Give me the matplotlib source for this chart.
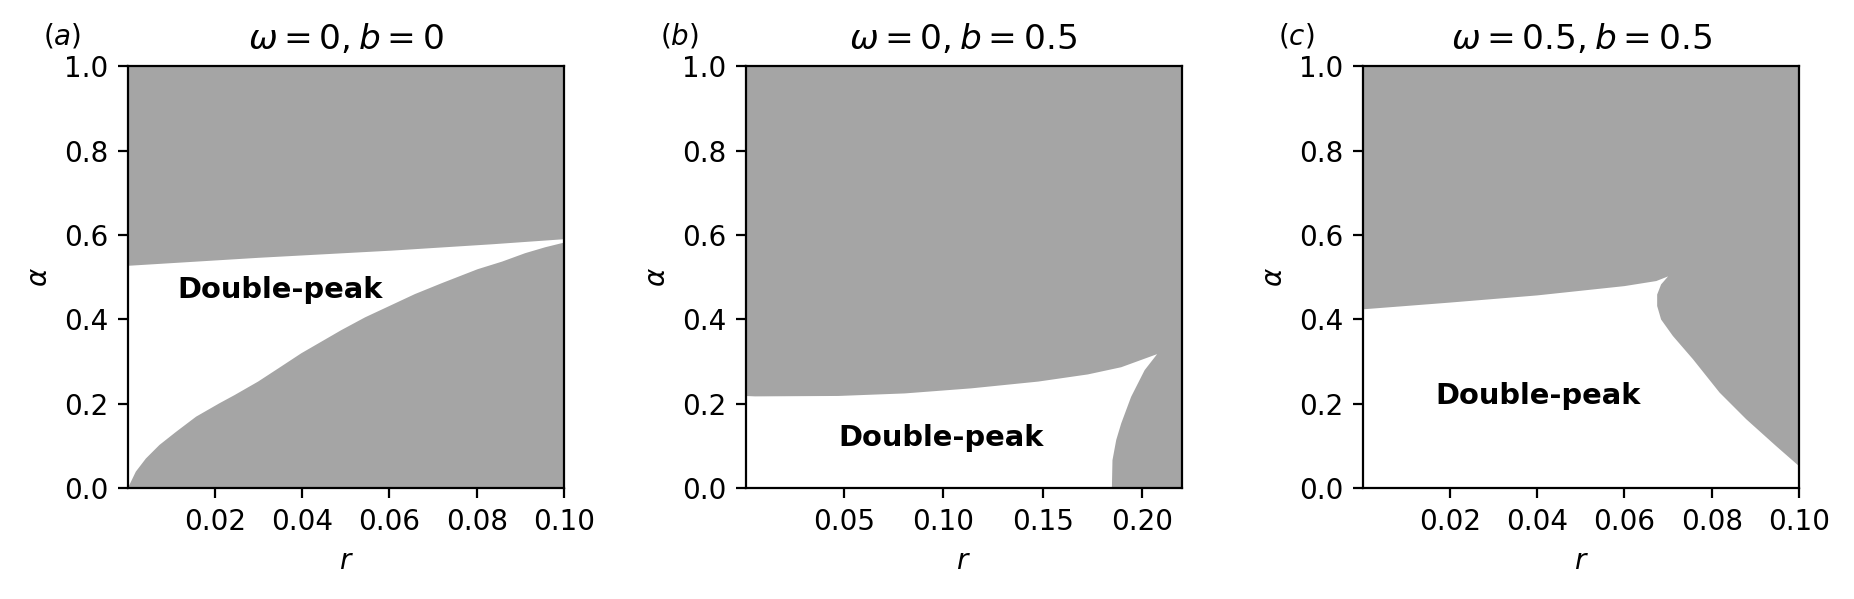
import matplotlib
matplotlib.use("Agg")
import matplotlib.pyplot as plt
import numpy as np

# panel (a): omega=0, b=0
a_r_up = [0.0, 0.03, 0.0605, 0.0835, 0.1]
a_al_up = [0.527, 0.546, 0.563, 0.578, 0.590]
a_r_lo = [0.0, 0.0004, 0.0019, 0.0042, 0.0073, 0.0111, 0.0157, 0.0211, 0.0245,
          0.0299, 0.0345, 0.0398, 0.049, 0.0544, 0.060, 0.0658, 0.072, 0.0802,
          0.0858, 0.0911, 0.0957, 0.1]
a_al_lo = [0.0, 0.008, 0.040, 0.071, 0.103, 0.134, 0.170, 0.202, 0.221,
           0.253, 0.284, 0.320, 0.375, 0.405, 0.432, 0.460, 0.486, 0.519,
           0.537, 0.557, 0.571, 0.582]

# panel (b): omega=0, b=0.5
b_r_up = [0.0, 0.005, 0.047, 0.0805, 0.114, 0.1477, 0.1728, 0.1896, 0.2077]
b_al_up = [0.219, 0.218, 0.219, 0.225, 0.237, 0.253, 0.270, 0.287, 0.318]
b_r_side = [0.2077, 0.2014, 0.1946, 0.1896, 0.1871, 0.1852, 0.1849]
b_al_side = [0.318, 0.280, 0.217, 0.154, 0.115, 0.067, 0.0]

# panel (c): omega=0.5, b=0.5
c_r_up = [0.0, 0.02, 0.04, 0.06, 0.0673, 0.070]
c_al_up = [0.424, 0.440, 0.457, 0.479, 0.491, 0.502]
c_r_side = [0.070, 0.0684, 0.0675, 0.0675, 0.0684, 0.0711, 0.0757, 0.0818,
            0.0879, 0.0948, 0.1]
c_al_side = [0.502, 0.483, 0.459, 0.432, 0.400, 0.361, 0.306, 0.227,
             0.164, 0.100, 0.053]

titles = [r"$\omega = 0, b = 0$", r"$\omega = 0, b = 0.5$", r"$\omega = 0.5, b = 0.5$"]
letters = [r"$(a)$", r"$(b)$", r"$(c)$"]
xlims = [(0.0001, 0.1), (0.0002, 0.22), (0.0001, 0.1)]
xticks = [[0.02, 0.04, 0.06, 0.08, 0.10], [0.05, 0.10, 0.15, 0.20], [0.02, 0.04, 0.06, 0.08, 0.10]]
label_pos = [(0.0115, 0.45), (0.047, 0.10), (0.0167, 0.20)]

gray = "#a5a5a5"

fig = plt.figure(figsize=(9.27, 2.995), dpi=200)
lefts = [128 / 1854, 745.5 / 1854, 1363 / 1854]
axes = [fig.add_axes([l, 0.1845, 436 / 1854, 0.7053]) for l in lefts]

# white = double-peak region, gray background elsewhere
polys = [
    (a_r_up + a_r_lo[::-1], a_al_up + a_al_lo[::-1]),
    (b_r_up + b_r_side + [0.0], b_al_up + b_al_side + [0.0]),
    (c_r_up + c_r_side + [0.1, 0.0], c_al_up + c_al_side + [0.0, 0.0]),
]

for i, ax in enumerate(axes):
    ax.set_facecolor(gray)
    px, py = polys[i]
    ax.fill(px, py, color="white", lw=0)
    ax.set_xlim(*xlims[i])
    ax.set_ylim(0, 1)
    ax.set_xticks(xticks[i])
    ax.set_yticks([0.0, 0.2, 0.4, 0.6, 0.8, 1.0])
    ax.set_xlabel(r"$r$")
    ax.set_ylabel(r"$\alpha$")
    ax.set_title(titles[i], fontsize=12.4)
    ax.text(-0.195, 1.05, letters[i], transform=ax.transAxes, fontsize=10)
    ax.text(label_pos[i][0], label_pos[i][1], "Double-peak", fontweight="bold", fontsize=10.4)

fig.savefig("out.png", dpi=200)
